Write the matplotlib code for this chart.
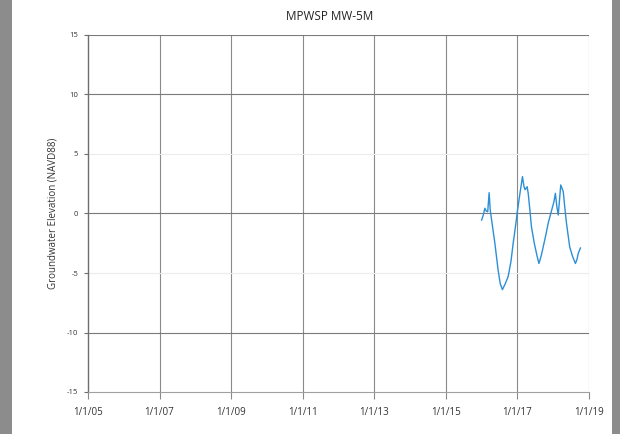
import numpy as np
import pandas as pd
import matplotlib
matplotlib.use("Agg")
import matplotlib.pyplot as plt
import matplotlib.dates as mdates
from matplotlib.patches import Rectangle

plt.rcParams["font.family"] = ["Open Sans", "DejaVu Sans"]
plt.rcParams["axes.unicode_minus"] = False

title = "MPWSP MW-5M"
ylabel = "Groundwater Elevation (NAVD88)"

# readings (decimal year, elevation)
obs_year = [2016.00, 2016.05, 2016.09, 2016.13, 2016.17, 2016.21, 2016.24, 2016.30,
            2016.37, 2016.46, 2016.52, 2016.58, 2016.66, 2016.74, 2016.82, 2016.88,
            2016.94, 2016.99, 2017.07, 2017.14, 2017.18, 2017.21, 2017.27, 2017.30,
            2017.35, 2017.39, 2017.47, 2017.55, 2017.60, 2017.66, 2017.72, 2017.80,
            2017.86, 2017.97, 2018.02, 2018.06, 2018.10, 2018.14, 2018.18, 2018.21,
            2018.28, 2018.32, 2018.37, 2018.46, 2018.54, 2018.62, 2018.66, 2018.70,
            2018.76]
obs_elev = [-0.55, -0.1, 0.44, 0.2, 0.15, 1.75, 0.3, -1.0,
            -2.5, -4.75, -5.9, -6.4, -5.9, -5.3, -4.0, -2.5,
            -1.2, 0.02, 1.7, 3.1, 2.3, 2.0, 2.25, 1.7,
            0.2, -1.1, -2.5, -3.6, -4.2, -3.6, -2.8, -1.7,
            -0.8, 0.44, 1.0, 1.7, 0.6, -0.13, 1.3, 2.4,
            1.85, 0.6, -0.8, -2.8, -3.6, -4.2, -3.9, -3.35,
            -2.9]

x_ticks = ["2005-01-01", "2007-01-01", "2009-01-01", "2011-01-01",
           "2013-01-01", "2015-01-01", "2017-01-01", "2019-01-01"]
y_dark = [-10, 0, 10, 15]
y_faint = [-5, 5]


def year_to_date(y):
    yr = int(np.floor(y))
    start = pd.Timestamp(f"{yr}-01-01")
    end = pd.Timestamp(f"{yr + 1}-01-01")
    return start + (end - start) * (y - yr)


dates = [year_to_date(y) for y in obs_year]

fig = plt.figure(figsize=(6.2, 4.34), dpi=100)
fig.patch.set_facecolor("#8c8c8c")

# white sheet the chart sits on
bg = fig.add_axes([0, 0, 1, 1], zorder=0)
bg.set_xlim(0, 620)
bg.set_ylim(0, 434)
bg.axis("off")
bg.add_patch(Rectangle((12, 0), 600, 434, facecolor="white", edgecolor="none"))

ax = fig.add_axes([88 / 620, 42 / 434, 501 / 620, 357 / 434], zorder=1)
ax.set_facecolor("none")

ax.plot(dates, obs_elev, color="#2b8fd8", lw=1.0, zorder=3)

ax.set_xlim(pd.Timestamp(x_ticks[0]), pd.Timestamp(x_ticks[-1]))
ax.set_ylim(-15, 15)

ax.set_xticks([pd.Timestamp(t) for t in x_ticks])
ax.xaxis.set_major_formatter(mdates.DateFormatter("%-m/%-d/%y"))
ax.set_yticks(list(range(-15, 16, 5)))

for d in x_ticks[1:]:
    ax.axvline(pd.Timestamp(d), color="#8a8a8a", lw=0.8, zorder=1)
for v in y_dark:
    ax.axhline(v, color="#7a7a7a", lw=0.8, zorder=1)
for v in y_faint:
    ax.axhline(v, color="#ececec", lw=0.8, zorder=1)

for s in ["top", "right"]:
    ax.spines[s].set_visible(False)
ax.spines["left"].set_color("#6e6e6e")
ax.spines["bottom"].set_color("#a0a0a0")
ax.spines["left"].set_linewidth(1.0)
ax.spines["bottom"].set_linewidth(0.8)

ax.tick_params(axis="x", direction="out", length=5, width=0.8, color="#8a8a8a",
               labelsize=7, labelcolor="#333333", pad=6)
ax.tick_params(axis="y", direction="out", length=3, width=0.8, color="#6e6e6e",
               labelsize=5.5, labelcolor="#333333", pad=4)

ax.set_ylabel(ylabel, fontsize=7, color="#333333", labelpad=6)
fig.text(330 / 620, 1 - 17 / 434, title, ha="center", va="center", fontsize=8.5,
         color="#222222")

fig.savefig("out.png", dpi=100, facecolor=fig.get_facecolor())
